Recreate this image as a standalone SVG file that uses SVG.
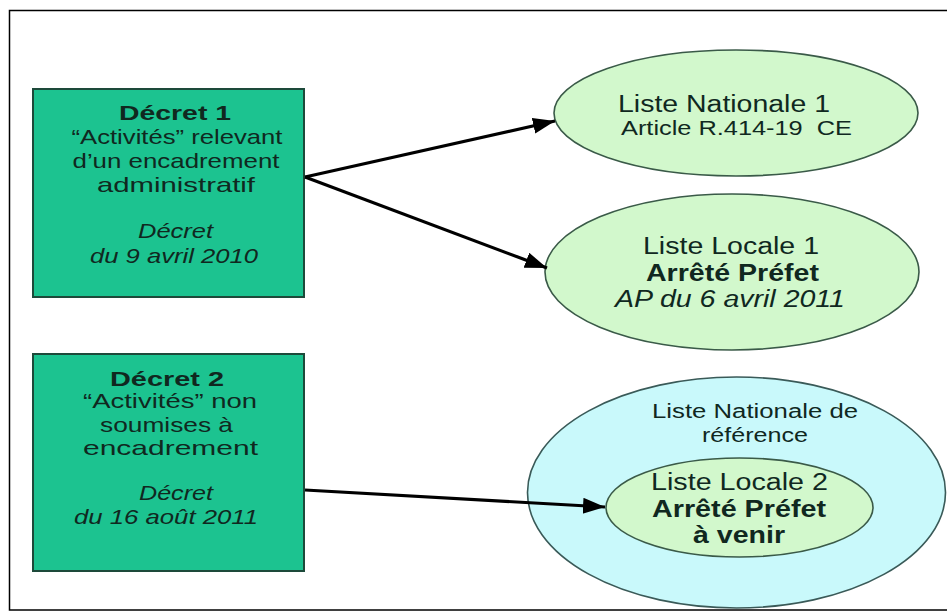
<svg xmlns="http://www.w3.org/2000/svg" width="947" height="612" viewBox="0 0 947 612">
<style>
.box{fill:#1cc390;stroke:#1d4a3a;stroke-width:2}
.eg{fill:#d2f8cc;stroke:#3a5a48;stroke-width:1.6}
.eb{fill:#c9f9fb;stroke:#3a5a58;stroke-width:1.6}
.t{font-family:"Liberation Sans",Arial,sans-serif;fill:#10281f;text-anchor:middle}
.bt{font-size:21px}
.et{font-size:23px}
.b{font-weight:bold}
.i{font-style:italic}
.conn{stroke:#000;stroke-width:3.2;fill:none}
</style>
<defs>
<marker id="ah" markerUnits="userSpaceOnUse" markerWidth="24" markerHeight="18" refX="22" refY="8" orient="auto">
<path d="M0,0 L22,8 L0,16 z" fill="#000"/>
</marker>
</defs>
<rect x="9.5" y="10.5" width="960" height="599.5" fill="#fff" stroke="#000" stroke-width="1.5"/>
<g id="decret1">
<rect class="box" x="33" y="89" width="271" height="208"/>
<text class="t bt b" x="175" y="120" textLength="112" lengthAdjust="spacingAndGlyphs">Décret 1</text>
<text class="t bt" x="177" y="144" textLength="211" lengthAdjust="spacingAndGlyphs">“Activités” relevant</text>
<text class="t bt" x="176" y="168" textLength="207" lengthAdjust="spacingAndGlyphs">d’un encadrement</text>
<text class="t bt" x="176" y="192" textLength="158" lengthAdjust="spacingAndGlyphs">administratif</text>
<text class="t bt i" x="175.5" y="238" textLength="75" lengthAdjust="spacingAndGlyphs">Décret</text>
<text class="t bt i" x="174" y="263" textLength="168" lengthAdjust="spacingAndGlyphs">du 9 avril 2010</text>
</g>
<g id="decret2">
<rect class="box" x="33" y="354" width="271" height="217"/>
<text class="t bt b" x="167" y="386" textLength="114" lengthAdjust="spacingAndGlyphs">Décret 2</text>
<text class="t bt" x="170" y="408" textLength="174" lengthAdjust="spacingAndGlyphs">“Activités” non</text>
<text class="t bt" x="166.5" y="432" textLength="133" lengthAdjust="spacingAndGlyphs">soumises à</text>
<text class="t bt" x="170.5" y="455" textLength="175" lengthAdjust="spacingAndGlyphs">encadrement</text>
<text class="t bt i" x="176" y="500" textLength="74" lengthAdjust="spacingAndGlyphs">Décret</text>
<text class="t bt i" x="166" y="524" textLength="184" lengthAdjust="spacingAndGlyphs">du 16 août 2011</text>
</g>
<g id="liste-nationale-1">
<ellipse class="eg" cx="736" cy="113" rx="182" ry="63"/>
<text class="t et" x="724" y="112" textLength="212" lengthAdjust="spacingAndGlyphs">Liste Nationale 1</text>
<text class="t" style="font-size:21px" x="736.5" y="135" textLength="231" lengthAdjust="spacingAndGlyphs" xml:space="preserve">Article R.414-19  CE</text>
</g>
<g id="liste-locale-1">
<ellipse class="eg" cx="732" cy="272" rx="187" ry="78"/>
<text class="t et" x="731" y="254" textLength="176" lengthAdjust="spacingAndGlyphs">Liste Locale 1</text>
<text class="t et b" x="732.5" y="281" textLength="173" lengthAdjust="spacingAndGlyphs">Arrêté Préfet</text>
<text class="t et i" x="730" y="307" textLength="230" lengthAdjust="spacingAndGlyphs">AP du 6 avril 2011</text>
</g>
<g id="liste-nationale-reference">
<ellipse class="eb" cx="736.5" cy="492.5" rx="209" ry="115.5"/>
<text class="t" style="font-size:20px" x="755" y="418" textLength="206" lengthAdjust="spacingAndGlyphs">Liste Nationale de</text>
<text class="t" style="font-size:20px" x="755" y="442" textLength="106" lengthAdjust="spacingAndGlyphs">référence</text>
</g>
<g id="liste-locale-2">
<ellipse class="eg" cx="739.5" cy="507.5" rx="133.5" ry="49.5"/>
<text class="t et" x="739.5" y="490" textLength="177" lengthAdjust="spacingAndGlyphs">Liste Locale 2</text>
<text class="t et b" x="739" y="517" textLength="174" lengthAdjust="spacingAndGlyphs">Arrêté Préfet</text>
<text class="t et b" x="739" y="543" textLength="92" lengthAdjust="spacingAndGlyphs">à venir</text>
</g>
<g id="connectors">
<line class="conn" x1="305" y1="177" x2="555" y2="121" marker-end="url(#ah)"/>
<line class="conn" x1="305" y1="177" x2="547" y2="268" marker-end="url(#ah)"/>
<line class="conn" x1="305" y1="490" x2="605" y2="507" marker-end="url(#ah)"/>
</g>
</svg>
